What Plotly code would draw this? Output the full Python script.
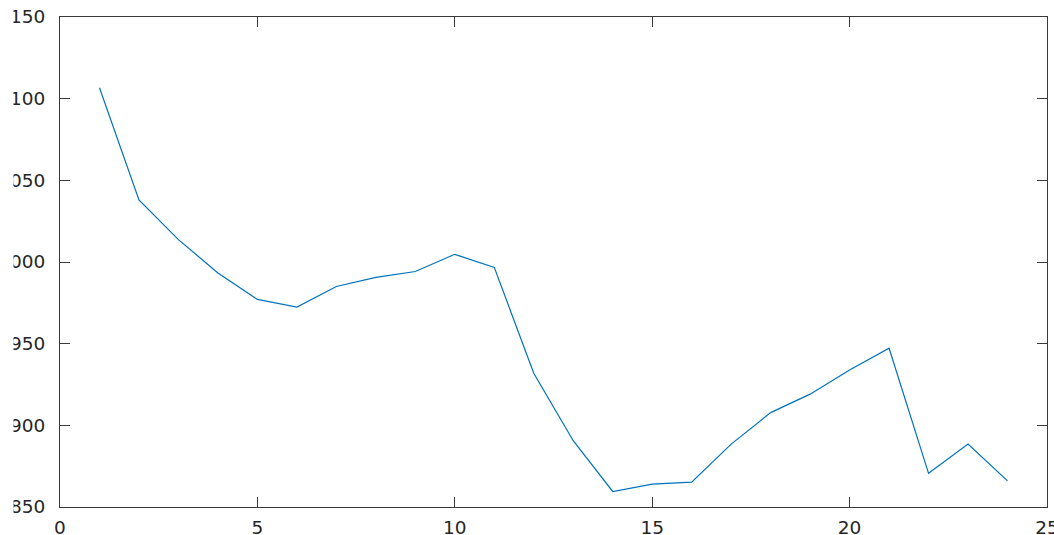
import plotly.graph_objects as go

# Series: one value per step, 1..24
steps = list(range(1, 25))
values = [1106.7, 1038.0, 1013.7, 993.3, 977.1, 972.4, 985.0, 990.6, 994.2, 1004.7,
          996.7, 931.9, 890.6, 859.5, 864.0, 865.2, 888.5, 907.8, 919.1, 933.9,
          947.2, 870.6, 888.5, 866.0]

x_ticks = [0, 5, 10, 15, 20, 25]
y_ticks = [850, 900, 950, 1000, 1050, 1100, 1150]

W, H = 1054, 535
M = dict(l=60, r=7, t=17, b=28)

axis_color = "#3a3a3a"
tick_font = dict(family="DejaVu Sans", size=18.5, color="#262626")

fig = go.Figure()
fig.add_trace(go.Scatter(
    x=steps, y=values, mode="lines",
    line=dict(color="#0072BD", width=1.2),
    showlegend=False,
))

common = dict(
    showgrid=False, zeroline=False,
    showline=True, linecolor=axis_color, linewidth=1,
    mirror="ticks", ticks="inside", ticklen=10, tickwidth=1, tickcolor=axis_color,
    tickfont=tick_font, automargin=False, ticklabeloverflow="allow",
)

fig.update_xaxes(range=[0, 25], tickvals=x_ticks, ticklabelstandoff=4, **common)
fig.update_yaxes(range=[850, 1150], tickvals=y_ticks, ticklabelstandoff=10, **common)

# The left strip of the canvas hides the leading digits of the y labels
plot_w = W - M["l"] - M["r"]
fig.add_shape(
    type="rect", xref="paper", yref="paper", layer="above",
    x0=(0 - M["l"]) / plot_w, x1=(13.5 - M["l"]) / plot_w, y0=-0.2, y1=1.1,
    fillcolor="white", line=dict(width=0),
)

fig.update_layout(
    template="none",
    width=W, height=H, margin=M,
    paper_bgcolor="white", plot_bgcolor="white",
)

fig.write_html("out.html")
